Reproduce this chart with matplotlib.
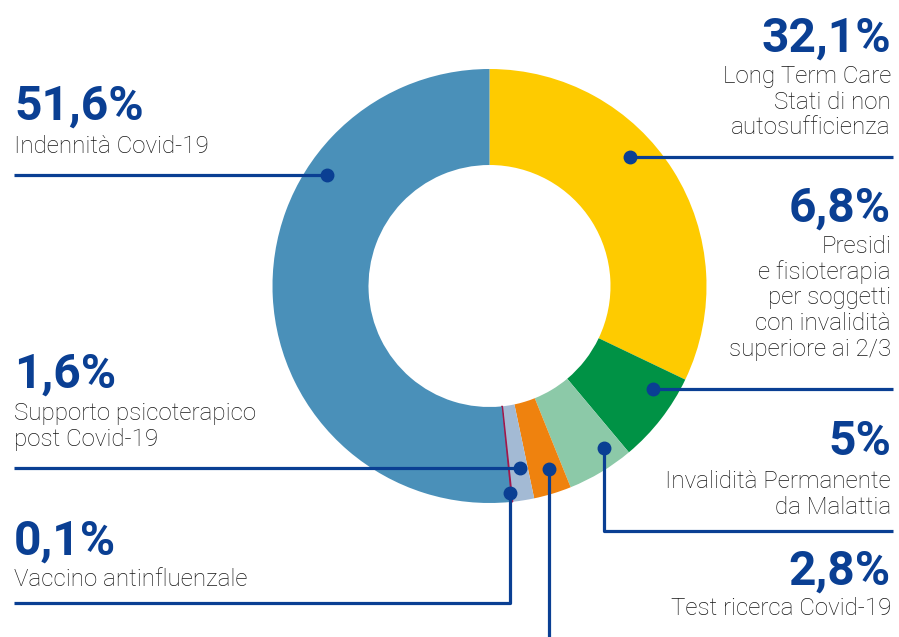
import matplotlib
matplotlib.use("Agg")
import matplotlib.pyplot as plt
import numpy as np

# quote per categoria di spesa (%)
valori = [32.1, 6.8, 5.0, 2.8, 1.6, 0.1, 51.6]
percentuali = ["32,1%", "6,8%", "5%", "2,8%", "1,6%", "0,1%", "51,6%"]
etichette = [
    "Long Term Care\nStati di non\nautosufficienza",
    "Presidi\ne fisioterapia\nper soggetti\ncon invalidità\nsuperiore ai 2/3",
    "Invalidità Permanente\nda Malattia",
    "Test ricerca Covid-19",
    "Supporto psicoterapico\npost Covid-19",
    "Vaccino antinfluenzale",
    "Indennità Covid-19",
]
colori = ["#fecb00", "#009245", "#8cc9a8", "#ef820e", "#a3bad4", "#a3174a", "#4a90b9"]

BLU = "#0a3f93"
TESTO = "#161616"
W, H = 899, 637
cx, cy = 489.5, 286
r_est, spessore = 217, 96

fig = plt.figure(figsize=(W / 100, H / 100), dpi=100)
ax = fig.add_axes([0, 0, 1, 1])

# asse y rovesciato: angoli crescenti = senso orario
wedges, _ = ax.pie(valori, colors=colori, startangle=-90, counterclock=True,
                   center=(cx, cy), radius=r_est,
                   wedgeprops=dict(width=spessore, linewidth=0))
# lo spicchio dello 0,1% e' sottilissimo: bordo del suo colore per renderlo visibile
wedges[5].set_edgecolor(colori[5])
wedges[5].set_linewidth(1.0)
ax.set_xlim(0, W)
ax.set_ylim(H, 0)
ax.set_aspect("equal")
ax.axis("off")

# punto di aggancio dentro ogni spicchio: (frazione dell'arco, raggio)
aggancio = [(0.41, 191), (0.27, 193), (0.26, 198), (0.39, 192),
            (0.42, 185), (1.0, 208), (0.70, 197)]

# percorso della linea dopo il punto: lista di ('h', x) o ('v', y)
percorsi = [
    [("h", 893)],
    [("h", 893)],
    [("v", 531), ("h", 893)],
    [("v", 640)],
    [("h", 14)],
    [("v", 603), ("h", 14)],
    [("h", 14)],
]

for w, (f, r), perc in zip(wedges, aggancio, percorsi):
    ang = np.deg2rad(w.theta1 + f * (w.theta2 - w.theta1))
    px, py = cx + r * np.cos(ang), cy + r * np.sin(ang)
    xs, ys = [px], [py]
    for tipo, v in perc:
        if tipo == "h":
            xs.append(v); ys.append(ys[-1])
        else:
            xs.append(xs[-1]); ys.append(v)
    ax.plot(xs, ys, color=BLU, lw=2.3, solid_capstyle="butt", zorder=3)
    ax.plot(px, py, "o", color=BLU, ms=9, zorder=4)

# blocchi di testo: (x, baseline percentuale, baseline prima riga, allineamento)
testi = [
    (891, 52, 83, "right"),
    (891, 222, 253, "right"),
    (891, 455, 488, "right"),
    (891, 585, 615, "right"),
    (14, 388, 420, "left"),
    (14, 555, 586, "left"),
    (14, 120, 153, "left"),
]

for (x, yp, yl, al), p, lab in zip(testi, percentuali, etichette):
    ax.text(x, yp, p, ha=al, va="baseline", fontsize=34.5, fontweight="bold",
            family="Roboto", color=BLU)
    for i, riga in enumerate(lab.split("\n")):
        ax.text(x, yl + i * 25.7, riga, ha=al, va="baseline", fontsize=17.4,
                fontweight="light", family="Roboto", color=TESTO)

fig.savefig("out.png", dpi=100)
